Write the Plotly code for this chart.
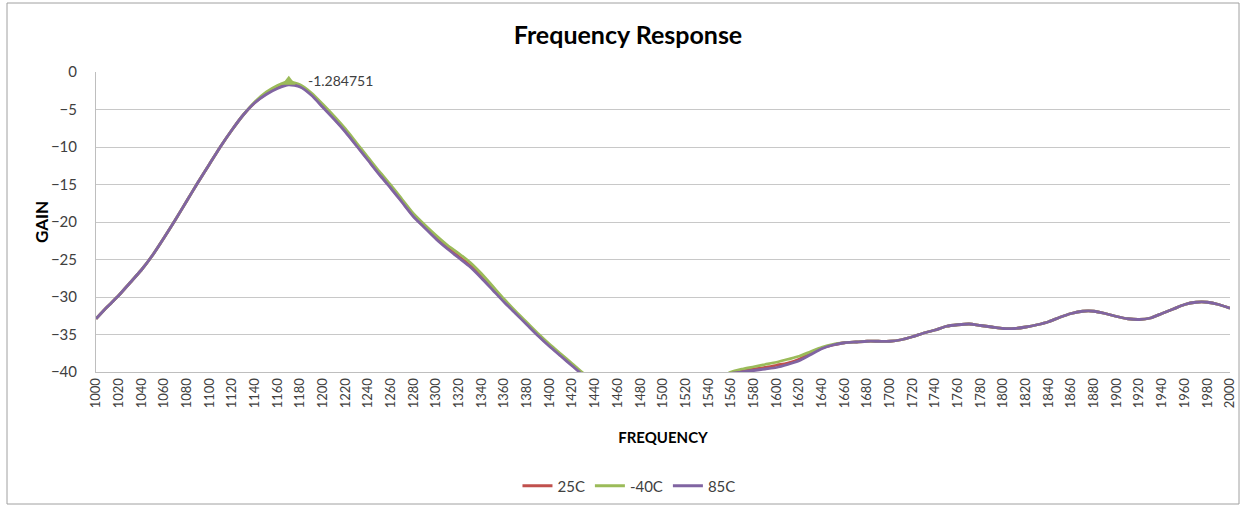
import plotly.graph_objects as go

freq = list(range(1000, 2001, 10))

gain_25c = [
    -32.9, -31.3, -29.8, -28.1, -26.4, -24.4, -22.1, -19.7, -17.2, -14.7,
    -12.3, -9.9, -7.7, -5.7, -4.1, -2.9, -2.1, -1.6, -1.9, -3.0,
    -4.6, -6.2, -7.9, -9.8, -11.7, -13.6, -15.4, -17.3, -19.2, -20.7,
    -22.1, -23.4, -24.6, -25.8, -27.3, -28.9, -30.6, -32.1, -33.6, -35.1,
    -36.5, -37.8, -39.1, -40.4, -41.8, -43.2, -44.5, -45.5, -46.2, -46.5,
    -46.4, -45.9, -45.0, -43.8, -42.4, -41.1, -40.1, -39.8, -39.6, -39.4,
    -39.1, -38.8, -38.3, -37.5, -36.8, -36.4, -36.1, -36.0, -35.9, -35.9,
    -35.9, -35.7, -35.3, -34.8, -34.4, -33.9, -33.7, -33.6, -33.8, -34.0,
    -34.2, -34.2, -34.0, -33.7, -33.3, -32.7, -32.2, -31.9, -31.9, -32.2,
    -32.6, -32.9, -33.0, -32.8, -32.2, -31.6, -31.0, -30.7, -30.7, -31.0,
    -31.5,
]

gain_m40c = [
    -32.9, -31.3, -29.8, -28.1, -26.4, -24.4, -22.1, -19.7, -17.2, -14.7,
    -12.3, -9.9, -7.7, -5.7, -4.0, -2.7, -1.8, -1.284751, -1.7, -2.8,
    -4.3, -5.9, -7.6, -9.5, -11.4, -13.3, -15.1, -17.0, -18.9, -20.4,
    -21.8, -23.1, -24.2, -25.4, -26.9, -28.6, -30.3, -31.9, -33.4, -34.9,
    -36.3, -37.6, -38.9, -40.2, -41.6, -43.0, -44.3, -45.3, -46.0, -46.3,
    -46.2, -45.7, -44.8, -43.6, -42.2, -40.9, -40.0, -39.6, -39.3, -39.0,
    -38.7, -38.3, -37.9, -37.3, -36.7, -36.3, -36.1, -36.0, -35.9, -35.9,
    -35.9, -35.7, -35.3, -34.8, -34.4, -33.9, -33.7, -33.6, -33.8, -34.0,
    -34.2, -34.2, -34.0, -33.7, -33.3, -32.7, -32.2, -31.9, -31.9, -32.2,
    -32.6, -32.9, -33.0, -32.8, -32.2, -31.6, -31.0, -30.7, -30.7, -31.0,
    -31.5,
]

gain_85c = [
    -32.9, -31.3, -29.8, -28.1, -26.4, -24.4, -22.1, -19.7, -17.2, -14.7,
    -12.3, -9.9, -7.7, -5.7, -4.1, -3.0, -2.2, -1.7, -2.0, -3.1,
    -4.7, -6.3, -8.0, -9.9, -11.8, -13.7, -15.5, -17.4, -19.3, -20.8,
    -22.3, -23.6, -24.8, -26.0, -27.5, -29.1, -30.7, -32.2, -33.7, -35.2,
    -36.6, -37.9, -39.2, -40.5, -41.9, -43.3, -44.6, -45.6, -46.3, -46.6,
    -46.5, -46.0, -45.1, -43.9, -42.5, -41.2, -40.2, -40.0, -39.8, -39.6,
    -39.4, -39.0, -38.5, -37.7, -36.9, -36.4, -36.1, -36.0, -35.9, -35.9,
    -35.9, -35.7, -35.3, -34.8, -34.4, -33.9, -33.7, -33.6, -33.8, -34.0,
    -34.2, -34.2, -34.0, -33.7, -33.3, -32.7, -32.2, -31.9, -31.9, -32.2,
    -32.6, -32.9, -33.0, -32.8, -32.2, -31.6, -31.0, -30.7, -30.7, -31.0,
    -31.5,
]

series_names = ["25C", "-40C", "85C"]
series_colors = ["#C0504D", "#9BBB59", "#8064A2"]
series_values = [gain_25c, gain_m40c, gain_85c]

x_ticks = list(range(1000, 2001, 20))

FONT = "Lato, 'Open Sans', sans-serif"

fig = go.Figure()
for name, color, vals in zip(series_names, series_colors, series_values):
    fig.add_trace(go.Scatter(
        x=freq, y=vals, mode="lines", name=name,
        line=dict(color=color, width=2.8, shape="spline", smoothing=0.6),
    ))

# peak marker + data label on -40C series
peak_idx = max(range(len(gain_m40c)), key=lambda i: gain_m40c[i])
peak_x = freq[peak_idx]
peak_y = gain_m40c[peak_idx]
fig.add_trace(go.Scatter(
    x=[peak_x], y=[peak_y], mode="markers", showlegend=False,
    marker=dict(symbol="triangle-up", size=12, color="#9BBB59"),
    hoverinfo="skip",
))
fig.add_annotation(
    x=peak_x, y=peak_y, text=f"{peak_y}", showarrow=False,
    xanchor="left", yanchor="middle", xshift=17, yshift=1,
    font=dict(family=FONT, size=14, color="#404040"),
)
# y-axis title
fig.add_annotation(
    xref="paper", yref="paper", x=(41 - 96) / 1134, y=(372 - 222) / 300,
    text="<b>GAIN</b>", textangle=-90, showarrow=False,
    xanchor="center", yanchor="middle",
    font=dict(family=FONT, size=17, color="#000000"),
)

fig.update_layout(
    width=1244, height=506, autosize=False,
    margin=dict(l=96, r=14, t=72, b=134, autoexpand=False),
    paper_bgcolor="white", plot_bgcolor="white",
    title=dict(text="<b>Frequency Response</b>", x=(628 - 96) / 1134,
               xref="paper", xanchor="center",
               y=1 - 35 / 506, yanchor="middle",
               font=dict(family=FONT, size=25, color="#000000")),
    legend=dict(orientation="h", x=0.47, xanchor="center", y=-0.38,
                yanchor="middle", font=dict(family=FONT, size=15, color="#404040"),
                itemwidth=30, tracegroupgap=0),
    showlegend=True,
)

fig.update_xaxes(
    range=[1000, 2000], tickmode="array", tickvals=x_ticks,
    ticktext=[str(v) for v in x_ticks], tickangle=-90, automargin=False,
    showgrid=False, showline=True, linecolor="#BEBEBE", linewidth=1,
    ticks="", zeroline=False,
    tickfont=dict(family=FONT, size=13, color="#404040"),
    title=dict(text="<b>FREQUENCY</b>", standoff=25,
               font=dict(family=FONT, size=15, color="#000000")),
)
fig.update_yaxes(
    range=[-40, 0], dtick=5, tick0=0, automargin=False,
    showgrid=True, gridcolor="#C8C8C8", gridwidth=1,
    showline=True, linecolor="#BEBEBE", linewidth=1, zeroline=False,
    ticks="", ticklabelstandoff=15,
    tickfont=dict(family=FONT, size=15, color="#404040"),
)

fig.add_shape(type="rect", xref="paper", yref="paper",
              x0=(7 - 96) / 1134, x1=(1239 - 96) / 1134,
              y0=(372 - 504) / 300, y1=(372 - 3) / 300,
              line=dict(color="#A0A0A0", width=1), fillcolor="rgba(0,0,0,0)",
              layer="below")

fig.write_html("out.html", config={"displayModeBar": False},
               post_script="document.body.style.margin='0px';")
